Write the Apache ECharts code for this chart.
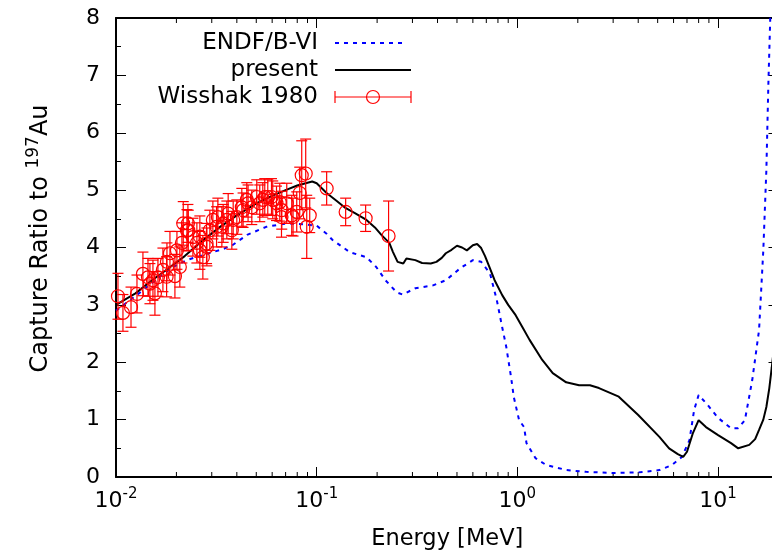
<!DOCTYPE html>
<html>
<head>
<meta charset="utf-8">
<script src="https://cdn.jsdelivr.net/npm/echarts@6/dist/echarts.min.js"></script>
<style>html,body{margin:0;padding:0;background:#fff;}#c{width:772px;height:558px;}</style>
</head>
<body>
<div id="c"></div>
<script>
// ---- data ----
const presentE = [0.01,0.0125,0.015,0.018,0.022,0.027,0.033,0.04,0.05,0.06,0.07,0.08,0.09,0.095,0.1,0.112,0.125,0.139,0.155,0.177,0.195,0.21,0.23,0.24,0.253,0.27,0.28,0.31,0.335,0.37,0.395,0.42,0.44,0.47,0.5,0.53,0.56,0.6,0.63,0.66,0.69,0.72,0.77,0.84,0.9,0.98,1.06,1.15,1.33,1.5,1.75,2.03,2.3,2.55,3.2,4.0,5.1,5.7,6.3,6.7,7.0,7.5,8.0,8.7,10,11.6,12.6,14.3,15.3,16,16.8,17.4,18.0,18.5,19.2,20];
const presentV = [3.0,3.2,3.42,3.62,3.85,4.12,4.36,4.56,4.77,4.9,5.0,5.08,5.13,5.15,5.12,4.95,4.82,4.69,4.6,4.48,4.35,4.22,4.08,3.92,3.75,3.72,3.81,3.78,3.73,3.72,3.75,3.82,3.9,3.96,4.03,4.0,3.95,4.04,4.06,3.99,3.85,3.69,3.43,3.17,3.0,2.82,2.61,2.39,2.04,1.81,1.65,1.6,1.6,1.55,1.40,1.08,0.7,0.5,0.4,0.35,0.44,0.77,0.99,0.87,0.73,0.59,0.5,0.56,0.66,0.82,1.0,1.22,1.55,1.9,2.4,2.9];

const endfE = [0.01,0.013,0.016,0.019,0.0225,0.029,0.034,0.038,0.045,0.056,0.071,0.089,0.1,0.112,0.12,0.146,0.177,0.198,0.22,0.25,0.268,0.31,0.38,0.44,0.52,0.6,0.66,0.73,0.79,0.84,0.88,0.93,0.96,1.02,1.08,1.11,1.23,1.39,1.76,2.2,3.0,4.0,5.1,5.9,6.6,7.2,7.6,8.0,8.9,10,11.6,12.6,13.6,14.8,16,16.8,17.4,17.8,18.3];
const endfV = [2.9,3.2,3.45,3.65,3.78,3.9,3.97,4.04,4.22,4.36,4.42,4.4,4.38,4.24,4.13,3.92,3.83,3.66,3.43,3.22,3.18,3.29,3.34,3.43,3.64,3.78,3.75,3.55,3.08,2.61,2.27,1.74,1.39,0.99,0.87,0.59,0.33,0.21,0.12,0.09,0.07,0.08,0.12,0.21,0.35,0.64,1.17,1.43,1.25,1.03,0.85,0.85,0.99,1.69,2.56,3.95,5.35,6.83,8.3];

const wisshakE = [0.01023,0.01083,0.01188,0.01272,0.01362,0.01443,0.01476,0.01528,0.01563,0.01618,0.01713,0.01787,0.01794,0.01857,0.01966,0.02012,0.0208,0.0213,0.02163,0.02256,0.02282,0.02291,0.02416,0.02529,0.02617,0.02617,0.02709,0.02826,0.02836,0.02935,0.03039,0.0317,0.03218,0.03369,0.0342,0.03567,0.03622,0.03777,0.03836,0.04,0.04235,0.04297,0.04484,0.04551,0.04749,0.05028,0.05204,0.05388,0.05511,0.05705,0.05953,0.0604,0.06305,0.06546,0.06677,0.06698,0.07093,0.0751,0.07625,0.07953,0.08231,0.08422,0.08816,0.0892,0.09231,0.1121,0.1394,0.1753,0.2281];
const wisshakV = [3.15,2.86,2.96,3.19,3.54,3.48,3.37,3.43,3.2,3.48,3.61,3.49,3.75,3.9,3.5,3.95,3.66,4.08,4.42,4.3,4.42,4.3,4.18,4.08,3.95,4.19,3.83,4.07,4.01,4.3,4.48,4.36,4.53,4.36,4.42,4.48,4.59,4.3,4.48,4.53,4.7,4.65,4.83,4.77,4.7,4.88,4.77,4.83,4.88,4.88,4.88,4.83,4.77,4.79,4.53,4.65,4.77,4.56,4.53,4.62,4.95,5.26,5.29,4.36,4.56,5.03,4.62,4.51,4.2];
const wisshakErr = [0.4,0.32,0.35,0.33,0.38,0.33,0.35,0.35,0.38,0.33,0.38,0.35,0.33,0.38,0.38,0.33,0.35,0.35,0.38,0.36,0.33,0.35,0.33,0.35,0.33,0.36,0.38,0.35,0.33,0.35,0.33,0.35,0.33,0.35,0.33,0.33,0.35,0.33,0.33,0.3,0.33,0.3,0.3,0.32,0.3,0.3,0.32,0.3,0.32,0.3,0.32,0.33,0.3,0.33,0.35,0.33,0.35,0.35,0.33,0.35,0.45,0.6,0.6,0.55,0.3,0.29,0.24,0.23,0.61];

const xMinorTicks = [0.02,0.03,0.04,0.05,0.06,0.07,0.08,0.09,0.2,0.3,0.4,0.5,0.6,0.7,0.8,0.9,2,3,4,5,6,7,8,9];
const yMin = 0, yMax = 8, yStep = 1;
const xMin = 0.01, xMax = 20;

// ---- chart ----
const chart = echarts.init(document.getElementById('c'), null, {renderer: 'canvas'});
const FONT = 'DejaVu Sans';
const fmtX = v => {
  const l = Math.log10(v), e = Math.round(l);
  if (Math.abs(l - e) > 1e-6) return '';
  return '{b|10}{s|' + e + '}';
};
const axisLineStyle = {color: '#000', width: 2};

const option = {
  animation: false,
  backgroundColor: '#fff',
  grid: {left: 116, top: 18, bottom: 81, right: -6.5, outerBoundsMode: 'none', containLabel: false},
  xAxis: [{
    type: 'log', logBase: 10, min: xMin, max: xMax,
    position: 'bottom',
    axisLine: {show: true, lineStyle: axisLineStyle, onZero: false},
    axisTick: {show: true, inside: true, length: 10, lineStyle: {color: '#000', width: 1}},
    splitLine: {show: false},
    axisLabel: {
      formatter: fmtX, margin: 10, color: '#000',
      rich: {
        b: {fontFamily: FONT, fontSize: 22, color: '#000'},
        s: {fontFamily: FONT, fontSize: 15, color: '#000', padding: [0, 0, 13, 0]}
      }
    },
    name: 'Energy [MeV]', nameLocation: 'middle', nameGap: 51,
    nameTextStyle: {fontFamily: FONT, fontSize: 22.5, color: '#000'}
  }, {
    type: 'log', logBase: 10, min: xMin, max: xMax,
    position: 'top',
    axisLine: {show: true, lineStyle: axisLineStyle, onZero: false},
    axisTick: {show: true, inside: true, length: 10, lineStyle: {color: '#000', width: 1}},
    splitLine: {show: false},
    axisLabel: {show: false}
  }],
  yAxis: [{
    type: 'value', min: yMin, max: yMax, interval: yStep,
    position: 'left',
    axisLine: {show: true, lineStyle: axisLineStyle, onZero: false},
    axisTick: {show: true, inside: true, length: 10, lineStyle: {color: '#000', width: 1}},
    minorTick: {show: true, splitNumber: 2, length: 5, lineStyle: {color: '#000', width: 1}},
    splitLine: {show: false},
    axisLabel: {fontFamily: FONT, fontSize: 22, color: '#000', margin: 16},
    name: '{a|Capture Ratio to }{s|197}{a|Au}', nameLocation: 'middle', nameGap: 60, nameRotate: 90,
    nameTextStyle: {
      color: '#000',
      padding: [0, 0, 0, 18],
      rich: {
        a: {fontFamily: FONT, fontSize: 24, color: '#000'},
        s: {fontFamily: FONT, fontSize: 17, color: '#000', padding: [0, 0, 14, 0]}
      }
    }
  }, {
    type: 'value', min: yMin, max: yMax, interval: yStep,
    position: 'right',
    axisLine: {show: true, lineStyle: axisLineStyle, onZero: false},
    axisTick: {show: true, inside: true, length: 10, lineStyle: {color: '#000', width: 1}},
    minorTick: {show: true, splitNumber: 2, length: 5, lineStyle: {color: '#000', width: 1}},
    splitLine: {show: false},
    axisLabel: {show: false}
  }],
  series: [
    {
      name: 'ENDF/B-VI', type: 'line', xAxisIndex: 0, yAxisIndex: 0,
      data: endfE.map((e, i) => [e, endfV[i]]),
      showSymbol: false, clip: true,
      lineStyle: {color: '#0000ff', width: 2, type: [4, 5]}
    },
    {
      name: 'present', type: 'line', xAxisIndex: 0, yAxisIndex: 0,
      data: presentE.map((e, i) => [e, presentV[i]]),
      showSymbol: false, clip: true,
      lineStyle: {color: '#000', width: 2}
    },
    {
      name: 'Wisshak 1980', type: 'custom', xAxisIndex: 0, yAxisIndex: 0,
      data: wisshakE.map((e, i) => [e, wisshakV[i], wisshakErr[i]]),
      renderItem: (params, api) => {
        const e = api.value(0), v = api.value(1), d = api.value(2);
        const c = api.coord([e, v]);
        const lo = api.coord([e, v - d]);
        const hi = api.coord([e, v + d]);
        const st = {stroke: '#ff0000', lineWidth: 1.2, fill: null};
        const cap = 5.5;
        return {type: 'group', children: [
          {type: 'line', shape: {x1: c[0], y1: lo[1], x2: c[0], y2: hi[1]}, style: st},
          {type: 'line', shape: {x1: c[0] - cap, y1: lo[1], x2: c[0] + cap, y2: lo[1]}, style: st},
          {type: 'line', shape: {x1: c[0] - cap, y1: hi[1], x2: c[0] + cap, y2: hi[1]}, style: st},
          {type: 'circle', shape: {cx: c[0], cy: c[1], r: 6.5}, style: {stroke: '#ff0000', lineWidth: 1.2, fill: 'rgba(0,0,0,0)'}}
        ]};
      },
      z: 5
    },
    {
      name: 'minorTicks', type: 'custom', xAxisIndex: 0, yAxisIndex: 0,
      data: xMinorTicks.map(v => [v]),
      silent: true,
      renderItem: (params, api) => {
        const v = api.value(0);
        const b = api.coord([v, yMin]);
        const t = api.coord([v, yMax]);
        const st = {stroke: '#000', lineWidth: 1};
        return {type: 'group', children: [
          {type: 'line', shape: {x1: b[0], y1: b[1], x2: b[0], y2: b[1] - 5}, style: st},
          {type: 'line', shape: {x1: t[0], y1: t[1], x2: t[0], y2: t[1] + 5}, style: st}
        ]};
      }
    }
  ],
  graphic: [
    {type: 'text', x: 318, y: 43, style: {text: 'ENDF/B-VI', fill: '#000', font: '23px "DejaVu Sans"', align: 'right', verticalAlign: 'middle'}},
    {type: 'line', shape: {x1: 335, y1: 43, x2: 407, y2: 43}, style: {stroke: '#0000ff', lineWidth: 2, lineDash: [4, 5]}},
    {type: 'text', x: 318, y: 70, style: {text: 'present', fill: '#000', font: '23px "DejaVu Sans"', align: 'right', verticalAlign: 'middle'}},
    {type: 'line', shape: {x1: 335, y1: 70, x2: 411, y2: 70}, style: {stroke: '#000', lineWidth: 2}},
    {type: 'text', x: 318, y: 97, style: {text: 'Wisshak 1980', fill: '#000', font: '23px "DejaVu Sans"', align: 'right', verticalAlign: 'middle'}},
    {type: 'line', shape: {x1: 335, y1: 97, x2: 411, y2: 97}, style: {stroke: '#ff0000', lineWidth: 1.2}},
    {type: 'line', shape: {x1: 335, y1: 91, x2: 335, y2: 103}, style: {stroke: '#ff0000', lineWidth: 1.2}},
    {type: 'line', shape: {x1: 411, y1: 91, x2: 411, y2: 103}, style: {stroke: '#ff0000', lineWidth: 1.2}},
    {type: 'circle', shape: {cx: 373, cy: 97, r: 6.5}, style: {stroke: '#ff0000', lineWidth: 1.2, fill: 'rgba(0,0,0,0)'}}
  ]
};
chart.setOption(option);
</script>
</body>
</html>
